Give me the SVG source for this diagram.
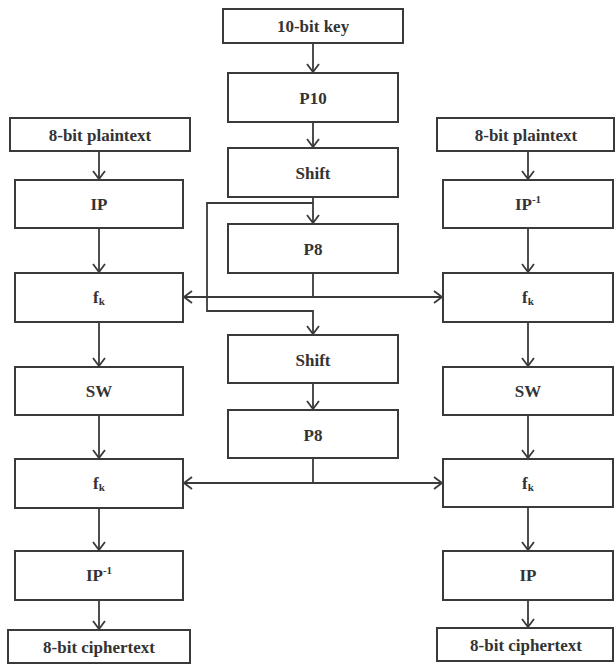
<svg xmlns="http://www.w3.org/2000/svg" width="616" height="664" viewBox="0 0 616 664">
<style>
.box{fill:#fff;stroke:#3a3a3a;stroke-width:2}
.lbl{font-family:"Liberation Serif","DejaVu Serif",serif;font-weight:bold;font-size:17px;fill:#333;text-anchor:middle;dominant-baseline:central}
.sub{font-size:11px}
.con{fill:none;stroke:#3a3a3a;stroke-width:1.8}
</style>
<defs>
<marker id="arr" markerUnits="userSpaceOnUse" markerWidth="14" markerHeight="14" refX="10" refY="7" orient="auto">
<path d="M2,1 L10,7 L2,13" fill="none" stroke="#3a3a3a" stroke-width="1.8"/>
</marker>
</defs>
<rect width="616" height="664" fill="#fff"/>
<g id="connectors">
<line class="con" x1="313" y1="43" x2="313" y2="72" marker-end="url(#arr)"/>
<line class="con" x1="313" y1="122" x2="313" y2="147" marker-end="url(#arr)"/>
<line class="con" x1="313" y1="197" x2="313" y2="223" marker-end="url(#arr)"/>
<polyline class="con" points="313,203 207,203 207,311 313,311 313,334" marker-end="url(#arr)"/>
<line class="con" x1="313" y1="383" x2="313" y2="409" marker-end="url(#arr)"/>
<line class="con" x1="313" y1="273" x2="313" y2="297"/>
<line class="con" x1="313" y1="297" x2="184" y2="297" marker-end="url(#arr)"/>
<line class="con" x1="313" y1="297" x2="442" y2="297" marker-end="url(#arr)"/>
<line class="con" x1="313" y1="458" x2="313" y2="483"/>
<line class="con" x1="313" y1="483" x2="184" y2="483" marker-end="url(#arr)"/>
<line class="con" x1="313" y1="483" x2="442" y2="483" marker-end="url(#arr)"/>
<line class="con" x1="99" y1="151" x2="99" y2="179" marker-end="url(#arr)"/>
<line class="con" x1="99" y1="228" x2="99" y2="272" marker-end="url(#arr)"/>
<line class="con" x1="99" y1="322" x2="99" y2="366" marker-end="url(#arr)"/>
<line class="con" x1="99" y1="415" x2="99" y2="458" marker-end="url(#arr)"/>
<line class="con" x1="99" y1="508" x2="99" y2="550" marker-end="url(#arr)"/>
<line class="con" x1="99" y1="600" x2="99" y2="629" marker-end="url(#arr)"/>
<line class="con" x1="528" y1="151" x2="528" y2="179" marker-end="url(#arr)"/>
<line class="con" x1="528" y1="228" x2="528" y2="272" marker-end="url(#arr)"/>
<line class="con" x1="528" y1="322" x2="528" y2="366" marker-end="url(#arr)"/>
<line class="con" x1="528" y1="415" x2="528" y2="458" marker-end="url(#arr)"/>
<line class="con" x1="528" y1="507" x2="528" y2="550" marker-end="url(#arr)"/>
<line class="con" x1="528" y1="600" x2="528" y2="627" marker-end="url(#arr)"/>
</g>
<g id="key"><rect class="box" x="223" y="9" width="180" height="34"/><text class="lbl" x="313" y="26">10-bit key</text></g>
<g id="p10"><rect class="box" x="228" y="73" width="170" height="49"/><text class="lbl" x="313" y="98">P10</text></g>
<g id="shift1"><rect class="box" x="228" y="148" width="170" height="49"/><text class="lbl" x="313" y="173">Shift</text></g>
<g id="p8a"><rect class="box" x="228" y="224" width="170" height="49"/><text class="lbl" x="313" y="249">P8</text></g>
<g id="shift2"><rect class="box" x="228" y="335" width="170" height="48"/><text class="lbl" x="313" y="360">Shift</text></g>
<g id="p8b"><rect class="box" x="228" y="410" width="170" height="48"/><text class="lbl" x="313" y="435">P8</text></g>
<g id="lpt"><rect class="box" x="10" y="118" width="180" height="33"/><text class="lbl" x="100" y="135">8-bit plaintext</text></g>
<g id="lip"><rect class="box" x="15" y="180" width="168" height="48"/><text class="lbl" x="99" y="204">IP</text></g>
<g id="lfk1"><rect class="box" x="15" y="273" width="168" height="49"/><text class="lbl" x="99" y="297">f<tspan class="sub" dy="4">k</tspan></text></g>
<g id="lsw"><rect class="box" x="15" y="367" width="168" height="48"/><text class="lbl" x="99" y="391">SW</text></g>
<g id="lfk2"><rect class="box" x="15" y="459" width="168" height="49"/><text class="lbl" x="99" y="483">f<tspan class="sub" dy="4">k</tspan></text></g>
<g id="lipinv"><rect class="box" x="15" y="551" width="168" height="49"/><text class="lbl" x="99" y="575">IP<tspan class="sub" dy="-5">-1</tspan></text></g>
<g id="lct"><rect class="box" x="8" y="630" width="182" height="33"/><text class="lbl" x="99" y="647">8-bit ciphertext</text></g>
<g id="rpt"><rect class="box" x="437" y="118" width="177" height="33"/><text class="lbl" x="526" y="135">8-bit plaintext</text></g>
<g id="ripinv"><rect class="box" x="443" y="180" width="170" height="48"/><text class="lbl" x="528" y="204">IP<tspan class="sub" dy="-5">-1</tspan></text></g>
<g id="rfk1"><rect class="box" x="443" y="273" width="170" height="49"/><text class="lbl" x="528" y="297">f<tspan class="sub" dy="4">k</tspan></text></g>
<g id="rsw"><rect class="box" x="443" y="367" width="170" height="48"/><text class="lbl" x="528" y="391">SW</text></g>
<g id="rfk2"><rect class="box" x="443" y="459" width="170" height="48"/><text class="lbl" x="528" y="483">f<tspan class="sub" dy="4">k</tspan></text></g>
<g id="rip"><rect class="box" x="443" y="551" width="170" height="49"/><text class="lbl" x="528" y="575">IP</text></g>
<g id="rct"><rect class="box" x="437" y="628" width="176" height="33"/><text class="lbl" x="526" y="645">8-bit ciphertext</text></g>
</svg>
